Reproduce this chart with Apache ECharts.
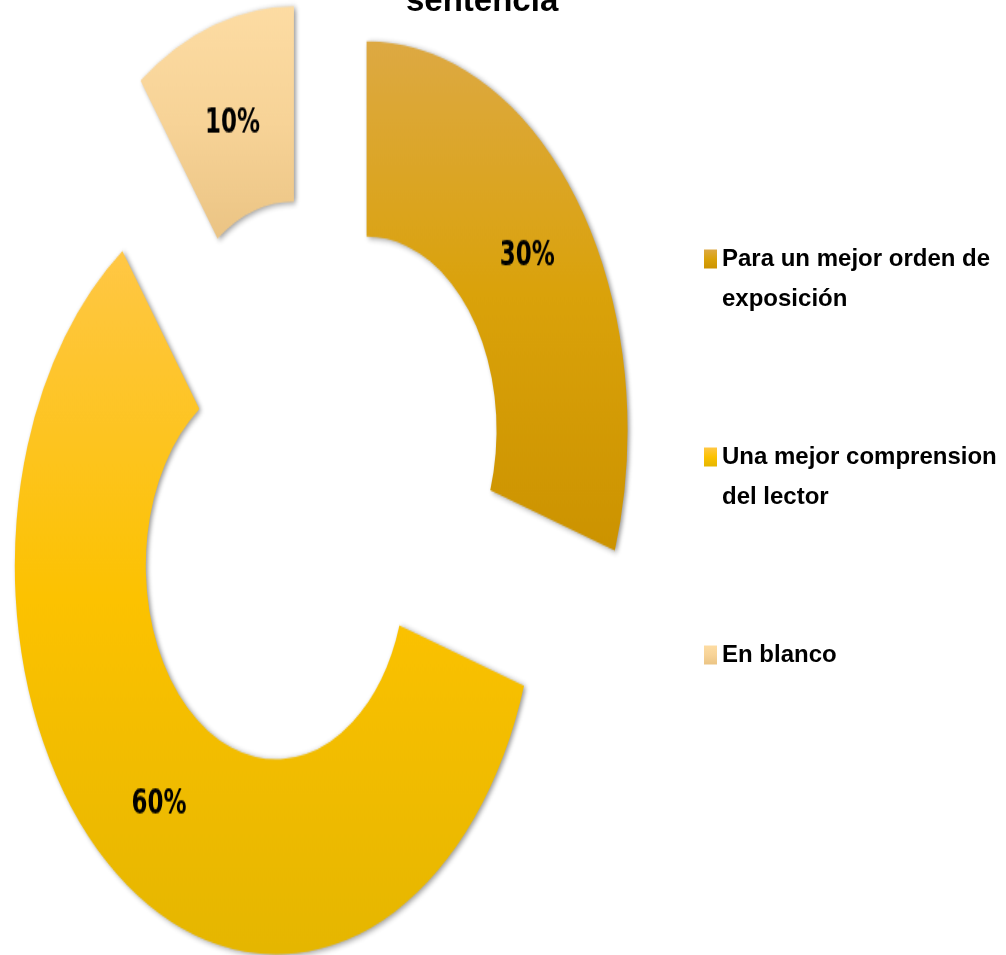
<!DOCTYPE html>
<html>
<head>
<meta charset="utf-8">
<script src="https://cdn.jsdelivr.net/npm/echarts@6/dist/echarts.min.js"></script>
<style>
  html, body { margin: 0; padding: 0; background: #fff; overflow: hidden; }
  #stage { position: relative; width: 1006px; height: 955px; }
  /* the ring is drawn in a shorter box and stretched vertically into an ellipse */
  #ring { position: absolute; left: 0; top: 0; width: 1006px; height: 641px;
          transform: scaleY(1.49); transform-origin: 0 0; }
  #key { position: absolute; left: 0; top: 0; width: 1006px; height: 955px; }
</style>
</head>
<body>
<div id="stage">
  <div id="ring"></div>
  <div id="key"></div>
</div>
<script>
// ---- data ----
const categories = [
  'Para un mejor orden de exposición',
  'Una mejor comprension del lector',
  'En blanco'
];
const shares = [30, 60, 10];          // percent of answers
const titleText = 'sentencia';

// ---- styles ----
const palette = [
  ['#DDA943', '#DAA20A', '#CC9300'],
  ['#FFC745', '#FCC200', '#E5B600'],
  ['#FDDCA3', '#F7D397', '#EBC484']
];
const FONT = 'Liberation Sans, Arial, sans-serif';
const LABEL_FONT = 'DejaVu Sans, sans-serif';

function fill(i) {
  return new echarts.graphic.LinearGradient(0, 0, 0, 1, [
    { offset: 0, color: palette[i][0] },
    { offset: 0.5, color: palette[i][1] },
    { offset: 1, color: palette[i][2] }
  ]);
}

const pieData = categories.map((name, i) => ({
  name: name,
  value: shares[i],
  selected: true,
  itemStyle: { color: fill(i) },
  // the small slice's label sits a little lower in its band
  label: i === 2 ? { formatter: p => '{low|' + p.value + '%}' } : {}
}));

// ---- exploded doughnut ----
const ring = echarts.init(document.getElementById('ring'));
ring.setOption({
  animation: false,
  legend: { show: false, data: categories },
  series: [{
    type: 'pie',
    center: [314, 327],
    radius: [130, 261],
    startAngle: 90,
    clockwise: true,
    selectedMode: 'multiple',
    selectedOffset: 65,
    avoidLabelOverlap: false,
    label: {
      show: true,
      position: 'inside',
      formatter: p => p.value + '%',
      fontFamily: LABEL_FONT,
      fontWeight: 'bold',
      fontSize: 23,
      color: '#000',
      rich: {
        low: {
          fontFamily: LABEL_FONT,
          fontWeight: 'bold',
          fontSize: 23,
          color: '#000',
          padding: [14, 0, 0, 0]
        }
      }
    },
    labelLine: { show: false },
    itemStyle: {
      shadowBlur: 4,
      shadowOffsetX: 2,
      shadowOffsetY: 1,
      shadowColor: 'rgba(0,0,0,0.4)'
    },
    emphasis: { scale: false },
    data: pieData
  }]
});

// ---- title and legend (not stretched) ----
const key = echarts.init(document.getElementById('key'));
key.setOption({
  animation: false,
  title: {
    text: titleText,
    left: 401,
    top: -20,
    textStyle: { fontFamily: FONT, fontWeight: 'bold', fontSize: 33, color: '#000' }
  },
  legend: {
    orient: 'vertical',
    left: 699,
    top: 194,
    icon: 'rect',
    itemWidth: 13,
    itemHeight: 19,
    itemGap: 78,
    // an empty line above (and below, for one-line entries) keeps each marker level with the first text line
    formatter: name => '\n' + name + (name.length < 20 ? '\n ' : ''),
    textStyle: {
      fontFamily: FONT,
      fontWeight: 'bold',
      fontSize: 24,
      lineHeight: 40,
      color: '#000',
      width: 282,
      overflow: 'break'
    },
    data: categories
  },
  series: [{
    type: 'pie',
    radius: [0, 0],
    silent: true,
    label: { show: false },
    labelLine: { show: false },
    data: categories.map((name, i) => ({ name: name, value: shares[i], itemStyle: { color: fill(i) } }))
  }]
});

// legend clicks toggle the matching slices of the ring
key.on('legendselectchanged', e => {
  ring.dispatchAction({ type: e.selected[e.name] ? 'legendSelect' : 'legendUnSelect', name: e.name });
});
</script>
</body>
</html>
